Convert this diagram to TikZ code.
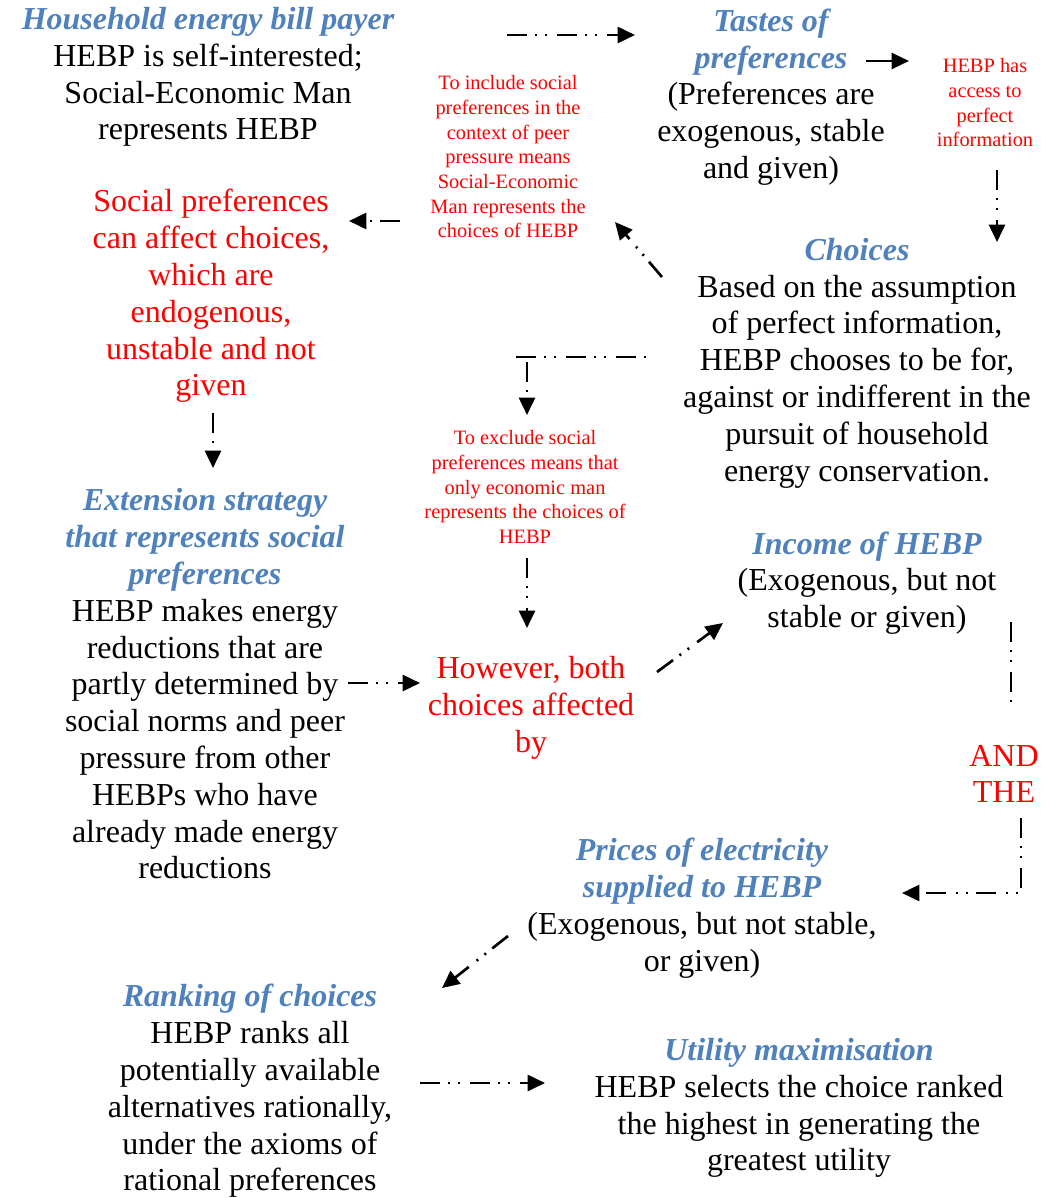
\documentclass[tikz,border=0pt]{standalone}
\usepackage{fontspec}
\setmainfont{Liberation Serif}
\usetikzlibrary{arrows.meta}
\definecolor{titleblue}{RGB}{79,129,189}
\definecolor{notered}{RGB}{255,0,0}
\newcommand\ttl[1]{{\color{titleblue}\bfseries\itshape #1}}
\tikzset{
  every node/.style={inner sep=0pt, align=center},
  txt/.style={font=\fontsize{24}{27.6}\selectfont},
  rtxt/.style={txt, text=notered},
  smallnote/.style={font=\fontsize{15.3}{18.5}\selectfont, text=notered},
  tip/.style={-{Triangle[length=13pt,width=12pt]}},
  flow/.style={line width=2pt,
    dash pattern=on 15pt off 6pt on 1.5pt off 6pt on 1.5pt off 7.5pt, tip},
  flowline/.style={flow, -},
  solidflow/.style={line width=1.6pt, tip},
}
\begin{document}
\begin{tikzpicture}[x=0.75pt, y=-0.75pt]
\useasboundingbox (0,0) rectangle (1046,1198);

% text blocks
\node[txt] (payer) at (208,77) {\ttl{Household energy bill payer}\\HEBP is self-interested;\\Social-Economic Man\\represents HEBP};
\node[txt] (tastes) at (771,97) {\ttl{Tastes of}\\\ttl{preferences}\\(Preferences are\\exogenous, stable\\and given)};
\node[smallnote] (perfect) at (985,103) {HEBP has\\access to\\perfect\\information};
\node[smallnote] (include) at (508,157) {To include social\\preferences in the\\context of peer\\pressure means\\Social-Economic\\Man represents the\\choices of HEBP};
\node[rtxt] (social) at (211,296) {Social preferences\\can affect choices,\\which are\\endogenous,\\unstable and not\\given};
\node[txt] (choices) at (857,363) {\ttl{Choices}\\Based on the assumption\\of perfect information,\\HEBP chooses to be for,\\against or indifferent in the\\pursuit of household\\energy conservation.};
\node[smallnote] (exclude) at (525,487) {To exclude social\\preferences means that\\only economic man\\represents the choices of\\HEBP};
\node[txt] (extension) at (205,684) {\ttl{Extension strategy}\\\ttl{that represents social}\\\ttl{preferences}\\HEBP makes energy\\reductions that are\\partly determined by\\social norms and peer\\pressure from other\\HEBPs who have\\already made energy\\reductions};
\node[rtxt] (however) at (531,708) {However, both\\choices affected\\by};
\node[txt] (income) at (867,583) {\ttl{Income of HEBP}\\(Exogenous, but not\\stable or given)};
\node[rtxt] (andthe) at (1004,774) {AND\\THE};
\node[txt] (prices) at (702,908) {\ttl{Prices of electricity}\\\ttl{supplied to HEBP}\\(Exogenous, but not stable,\\or given)};
\node[txt] (ranking) at (250,1091) {\ttl{Ranking of choices}\\HEBP ranks all\\potentially available\\alternatives rationally,\\under the axioms of\\rational preferences};
\node[txt] (utility) at (799,1108) {\ttl{Utility maximisation}\\HEBP selects the choice ranked\\the highest in generating the\\greatest utility};

% connector end points
\coordinate (a1) at (507,35);   \coordinate (a2) at (635,35);
\coordinate (b1) at (866,61);   \coordinate (b2) at (909,61);
\coordinate (c1) at (997,170);  \coordinate (c2) at (997,242);
\coordinate (d1) at (400,221);  \coordinate (d2) at (349,221);
\coordinate (e1) at (662,277);  \coordinate (e2) at (615,222);
\coordinate (f1) at (516,357);  \coordinate (f2) at (648,357);
\coordinate (f3) at (527,362);  \coordinate (f4) at (527,415);
\coordinate (g1) at (213,413);  \coordinate (g2) at (213,468);
\coordinate (h1) at (527,558);  \coordinate (h2) at (527,628);
\coordinate (i1) at (348,683);  \coordinate (i2) at (420,683);
\coordinate (j1) at (657,672);  \coordinate (j2) at (723,623);
\coordinate (k1) at (1011,622); \coordinate (k2) at (1011,705);
\coordinate (k3) at (1021,818); \coordinate (k4) at (1021,893); \coordinate (k5) at (902,893);
\coordinate (l1) at (508,936);  \coordinate (l2) at (442,988);
\coordinate (m1) at (420,1083); \coordinate (m2) at (545,1083);

% connectors
\draw[flow] (a1) -- (a2);
\draw[solidflow] (b1) -- (b2);
\draw[flow] (c1) -- (c2);
\draw[flow] (d1) -- (d2);
\draw[flow] (e1) -- (e2);
\draw[flowline] (f1) -- (f2);
\draw[flow] (f3) -- (f4);
\draw[flow] (g1) -- (g2);
\draw[flow] (h1) -- (h2);
\draw[flow] (i1) -- (i2);
\draw[flow] (j1) -- (j2);
\draw[flowline] (k1) -- (k2);
\draw[flow] (k3) -- (k4) -- (k5);
\draw[flow] (l1) -- (l2);
\draw[flow] (m1) -- (m2);
\end{tikzpicture}
\end{document}
